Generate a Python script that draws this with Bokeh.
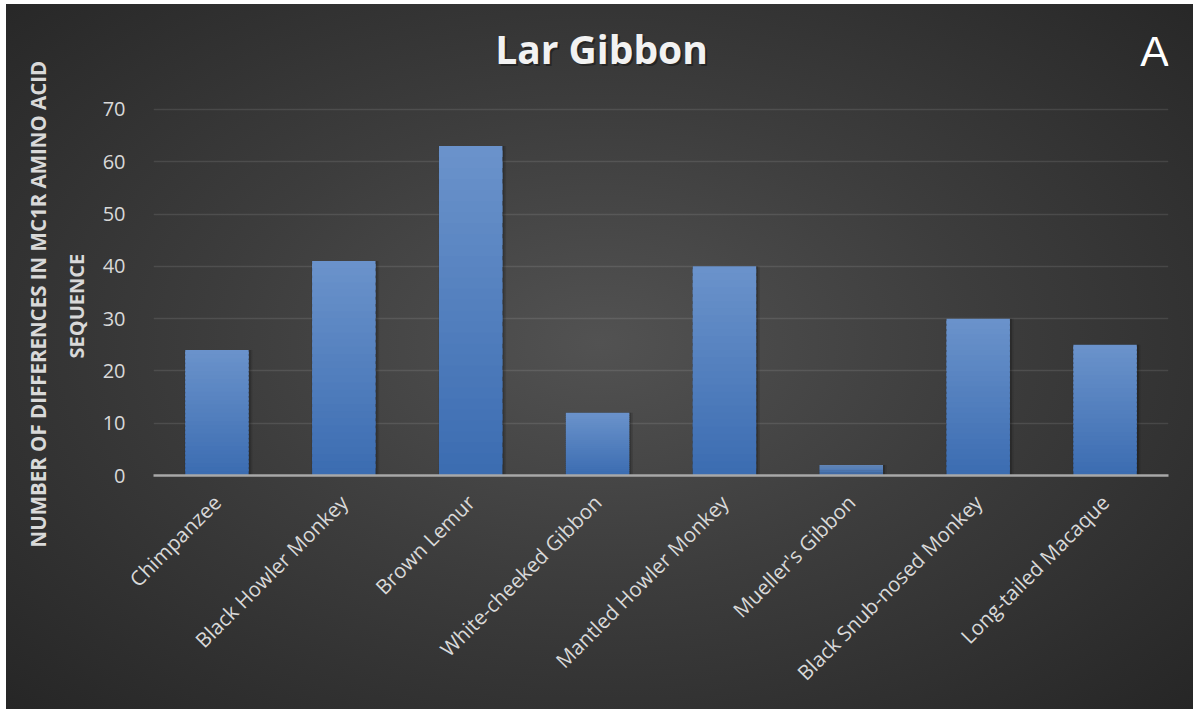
import math
from bokeh.plotting import figure
from bokeh.models import FactorRange, Range1d, FixedTicker, Label, Title, InlineStyleSheet
from bokeh.transform import dodge
from bokeh.embed import file_html
from bokeh.resources import INLINE

# ---- data ----
species = ["Chimpanzee", "Black Howler Monkey", "Brown Lemur", "White-cheeked Gibbon",
           "Mantled Howler Monkey", "Mueller's Gibbon", "Black Snub-nosed Monkey",
           "Long-tailed Macaque"]
differences = [24, 41, 63, 12, 40, 2, 30, 25]
y_ticks = [0, 10, 20, 30, 40, 50, 60, 70]
title_text = "Lar Gibbon"
panel_letter = "A"
y_label_lines = ["NUMBER OF DIFFERENCES IN MC1R AMINO ACID", "SEQUENCE"]

FONT = "Open Sans"

# frame spans from the top of the canvas down to the zero line; gridlines stop at 70
p = figure(x_range=FactorRange(*species), y_range=Range1d(0, 90.08),
           width=1187, height=705, output_backend="svg", toolbar_location=None,
           min_border_left=147, min_border_right=25, min_border_top=0,
           min_border_bottom=234)
p.margin = (4, 0, 0, 6)
p.background_fill_alpha = 0
p.border_fill_alpha = 0
p.outline_line_color = None
p.stylesheets = [InlineStyleSheet(css=""":host { background: radial-gradient(ellipse farthest-corner at 50% 48%, #525252 0%, #3d3d3d 45%, #262626 100%); }""")]

# shadows
p.vbar(x=dodge("x", 0.012, range=p.x_range), top="top", bottom=-0.5, width=0.535,
       source=dict(x=species, top=differences), fill_color="black", fill_alpha=0.10,
       line_color=None)
p.vbar(x=dodge("x", 0.008, range=p.x_range), top="top", bottom=-0.3, width=0.515,
       source=dict(x=species, top=differences), fill_color="black", fill_alpha=0.18,
       line_color=None)

# gradient bars built from slightly overlapping slices of each bar
c_top = (0x6b, 0x93, 0xcb)
c_bot = (0x3b, 0x6c, 0xb1)
N = 30
xs, bots, tops, cols = [], [], [], []
for s, v in zip(species, differences):
    for k in range(N):
        t = (k + 0.5) / N
        c = tuple(round(c_bot[j] + (c_top[j] - c_bot[j]) * t) for j in range(3))
        xs.append(s)
        bots.append(v * k / N)
        tops.append(min(v * (k + 1.6) / N, v))
        cols.append("#%02x%02x%02x" % c)
p.vbar(x=xs, bottom=bots, top=tops, width=0.5, fill_color=cols, line_color=None)

# axes
p.yaxis.ticker = FixedTicker(ticks=y_ticks)
p.yaxis.axis_line_color = None
p.yaxis.major_tick_line_color = None
p.yaxis.minor_tick_line_color = None
p.yaxis.major_label_text_color = "#d9d9d9"
p.yaxis.major_label_text_font = FONT
p.yaxis.major_label_text_font_size = "20px"
p.yaxis.major_label_standoff = 22

p.xaxis.axis_line_color = "#a8a8a8"
p.xaxis.axis_line_width = 2.5
p.xaxis.major_tick_line_color = None
p.xaxis.minor_tick_line_color = None
p.xaxis.major_label_orientation = math.pi / 4
p.xaxis.major_label_text_color = "#d9d9d9"
p.xaxis.major_label_text_font = FONT
p.xaxis.major_label_text_font_size = "20.5px"
p.xaxis.major_label_standoff = 17

p.xgrid.grid_line_color = None
p.ygrid.ticker = FixedTicker(ticks=y_ticks)
p.ygrid.grid_line_color = "white"
p.ygrid.grid_line_alpha = 0.1
p.ygrid.grid_line_width = 1.5

# title with soft shadow (x in screen px from the frame's left edge)
p.add_layout(Label(x=450, y=81.3, x_units="screen", text=title_text, text_align="center",
                   text_baseline="alphabetic", text_font=FONT, text_font_style="bold",
                   text_font_size="39px", text_color="black", text_alpha=0.35))
p.add_layout(Label(x=448, y=81.65, x_units="screen", text=title_text, text_align="center",
                   text_baseline="alphabetic", text_font=FONT, text_font_style="bold",
                   text_font_size="39px", text_color="#f2f2f2"))

p.add_layout(Label(x=1001, y=81.25, x_units="screen", text=panel_letter, text_align="center",
                   text_baseline="alphabetic", text_font="Liberation Sans",
                   text_font_size="43px", text_color="white"))

# y axis title (two lines), nearest line first; offset measured up from the zero line
p.add_layout(Title(text=y_label_lines[1], align="left", offset=117, standoff=19,
                   text_line_height=0.7,
                   text_font=FONT, text_font_style="bold", text_font_size="20px",
                   text_color="#d9d9d9"), "left")
p.add_layout(Title(text=y_label_lines[0], align="left", offset=-72, standoff=0,
                   text_font=FONT, text_font_style="bold", text_font_size="20.5px",
                   text_color="#d9d9d9"), "left")

open("out.html", "w").write(file_html(p, INLINE))
